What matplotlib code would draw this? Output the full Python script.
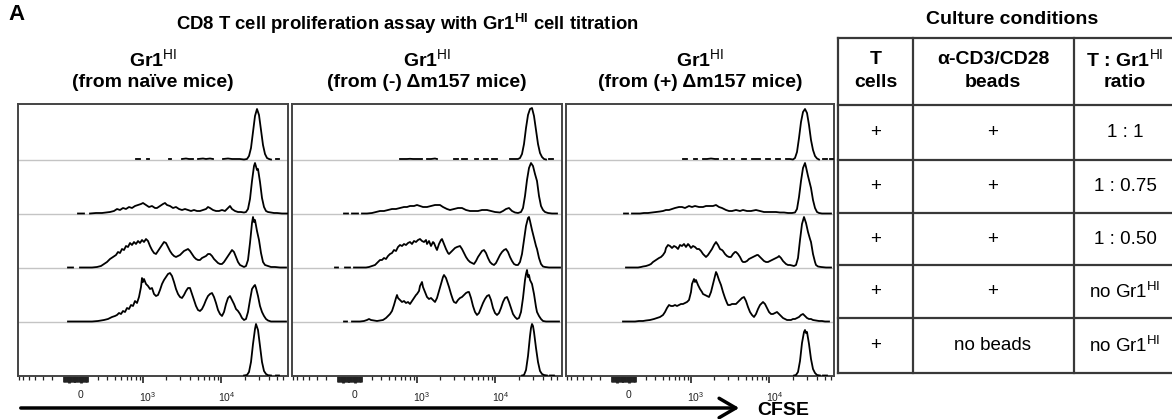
import math
import numpy as np
import matplotlib
matplotlib.use("Agg")
import matplotlib.pyplot as plt
from matplotlib.transforms import ScaledTranslation

plt.rcParams['font.family'] = ['Liberation Sans', 'DejaVu Sans']
plt.rcParams['mathtext.fontset'] = 'custom'
plt.rcParams['mathtext.rm'] = 'Liberation Sans'
plt.rcParams['mathtext.bf'] = 'Liberation Sans:bold'
plt.rcParams['mathtext.it'] = 'Liberation Sans:italic'

W, H = 1172, 419
G = None  # hueco (sin eventos)

#### Datos: histogramas CFSE (canal 0-270, altura en px de una fila de 54) ####

row_labels = ["1 : 1", "1 : 0.75", "1 : 0.50", "no Gr1$^{\\mathrm{HI}}$", "no Gr1$^{\\mathrm{HI}}$"]
beads_labels = ["+", "+", "+", "+", "no beads"]
tcell_labels = ["+", "+", "+", "+", "+"]

panel_titles = ["(from naïve mice)", "(from (-) \u0394m157 mice)", "(from (+) \u0394m157 mice)"]

# Panel 1: Gr1HI de ratones naive
naive_1a1 = [(118, 1), (122, 1), G, (129, 1), (131, 1), G, (151, 1), (153, 1), G,
             (164, 1), (168, 1.5), (171, 1), (175, 1), G, (180, 1), (185, 1.5), (188, 1), (192, 1.5), (195, 1), G,
             (205, 1), (210, 1.5), (214, 1), (218, 1), (222, 1), (226, 0.5), (229, 1), (231, 4), (233, 12),
             (235, 28), (237, 44), (239, 51), (241, 45), (243, 30), (245, 15), (247, 6), (249, 2), (251, 1),
             (253, 0.5), G, (258, 1), (261, 1)]
naive_1a075 = [(60, .5), (66, .5), G, (72, .5), (78, 1), (84, 1), (88, 1.5), (92, 2), (96, 3), (99, 5), (102, 4),
               (105, 6), (108, 5), (111, 7), (114, 6), (117, 8), (120, 9), (123, 10), (125, 11), (128, 9), (131, 7),
               (134, 8), (137, 6), (139, 6), (142, 8), (145, 10), (147, 11), (149, 9), (152, 8), (155, 6), (158, 7),
               (161, 5), (164, 4), (167, 5), (170, 4), (173, 3), (176, 4), (179, 3), (182, 3), (185, 4), (188, 5),
               (190, 7), (192, 6), (195, 4), (198, 3), (201, 3), (204, 4), (207, 3), (210, 6), (212, 8), (214, 5),
               (217, 3), (220, 2), (223, 2), (226, 1.5), (228, 2), (230, 5), (232, 15), (234, 33), (236, 48),
               (237, 51), (239, 44), (240, 45), (242, 32), (244, 16), (246, 7), (248, 3), (250, 2), (253, 1.5),
               (256, 1), (259, 1), (264, .5), (270, .5)]
naive_1a050 = [(50, .5), (55, .5), G, (62, .5), (68, .5), (74, .5), (79, 1), (83, 2), (86, 4), (89, 6), (92, 9),
               (95, 11), (98, 13), (100, 16), (102, 15), (104, 19), (106, 18), (108, 22), (110, 21), (112, 25),
               (114, 23), (116, 26), (118, 24), (120, 27), (122, 25), (124, 28), (126, 26), (128, 29), (130, 27),
               (132, 22), (134, 18), (136, 15), (138, 14), (140, 17), (142, 20), (144, 23), (146, 26), (148, 25),
               (150, 21), (152, 17), (154, 14), (156, 12), (158, 11), (160, 12), (162, 13), (164, 15), (166, 17),
               (168, 18), (170, 19), (172, 17), (174, 14), (176, 11), (178, 9), (180, 8), (182, 8), (184, 10),
               (186, 11), (188, 12), (190, 14), (192, 14), (194, 12), (196, 9), (198, 7), (200, 5), (202, 4),
               (204, 4), (206, 6), (208, 9), (210, 12), (212, 15), (214, 18), (216, 16), (218, 11), (220, 6),
               (222, 3), (224, 2), (226, 1), (228, 2), (230, 8), (232, 25), (234, 45), (235, 51), (236, 46),
               (237, 48), (239, 37), (241, 28), (243, 15), (245, 6), (247, 3), (250, 2), (253, 1), (257, 1),
               (262, .5), (268, .5)]
naive_nogr1 = [(50, .5), (56, .5), (62, .5), (68, .5), (74, .5), (80, 1), (86, 2), (90, 3), (94, 5), (97, 6),
               (99, 7), (101, 9), (103, 8), (105, 11), (107, 10), (109, 14), (111, 13), (113, 17), (115, 16),
               (117, 21), (119, 19), (121, 25), (123, 35), (124, 44), (125, 40), (126, 43), (128, 38), (130, 36),
               (132, 33), (134, 34), (136, 28), (138, 26), (140, 27), (142, 32), (144, 38), (146, 42), (148, 45),
               (150, 48), (152, 49), (154, 46), (156, 40), (158, 33), (160, 28), (162, 25), (164, 24), (166, 27),
               (168, 31), (170, 34), (172, 34), (174, 28), (176, 22), (178, 16), (180, 12), (182, 11), (184, 13),
               (186, 17), (188, 22), (190, 26), (192, 28), (194, 29), (196, 25), (198, 19), (200, 12), (202, 8),
               (204, 6), (206, 10), (208, 18), (210, 24), (212, 26), (214, 22), (216, 18), (218, 13), (220, 11),
               (222, 8), (224, 4), (226, 2), (228, 3), (230, 10), (232, 22), (234, 33), (236, 36), (237, 37),
               (238, 34), (240, 26), (242, 16), (244, 10), (246, 6), (248, 3), (250, 1.5), (253, .5), (258, .5),
               (264, .5), (268, .5)]
naive_nobeads = [(226, .5), (229, 1), (231, 4), (233, 14), (235, 32), (237, 47), (238, 52), (240, 46), (242, 30),
                 (244, 14), (246, 5), (248, 2), (250, .8), (253, .5), G, (258, .5), (261, .5)]

# Panel 2: Gr1HI de ratones (-) dm157
neg_1a1 = [(108, 1), (112, 1), (115, 1), (118, 1.2), (121, 1), (124, 1), (127, 1), (130, 1), G, (135, 1),
           (139, 1), (143, 1.5), (145, 1), G, (162, 1), (166, 1), G, (170, 1), (175, 1), G, (183, 1), (186, 1), G,
           (192, 1), (196, 1), G, (200, 1), (205, 1), G, (218, 1), (222, 1), (226, 1), (228, 2), (230, 6),
           (232, 16), (234, 32), (236, 45), (238, 51), (240, 52), (242, 44), (244, 30), (246, 16), (248, 7),
           (250, 3), (252, 1), (254, .5), G, (257, 1), (261, 1)]
neg_1a075 = [(52, .5), (56, .5), G, (60, .5), (66, .5), G, (70, .5), (75, .5), (80, 1), (84, 2), (88, 3),
             (92, 3), (96, 4), (100, 5), (104, 5), (108, 6), (112, 7), (115, 7), (118, 8), (122, 8), (125, 9),
             (128, 8), (131, 7), (135, 7), (139, 8), (143, 9), (146, 9), (148, 9), (151, 7), (155, 5), (158, 4),
             (162, 5), (166, 6), (170, 6), (174, 4), (178, 3), (182, 3), (186, 3), (190, 4), (195, 4), (199, 3),
             (203, 2), (208, 1.5), (211, 3), (214, 5), (217, 6), (220, 3), (223, 1.5), (226, 1), (229, 2),
             (231, 6), (233, 18), (235, 34), (237, 46), (239, 51), (241, 48), (243, 40), (245, 33), (247, 18),
             (249, 8), (251, 4), (253, 2), (256, 1), (260, .5), (265, .5)]
neg_1a050 = [(43, .5), (46, .5), G, (53, .5), (58, .5), G, (62, .5), (66, .5), (70, .5), (74, .5), (77, 1),
             (80, 2), (83, 3), (86, 6), (88, 8), (90, 8), (92, 10), (94, 9), (96, 12), (98, 14), (100, 15),
             (102, 18), (104, 17), (106, 21), (108, 23), (110, 22), (112, 24), (114, 23), (116, 25), (118, 26),
             (120, 24), (122, 27), (124, 26), (126, 28), (128, 29), (130, 27), (132, 26), (134, 28), (135, 24),
             (137, 27), (139, 22), (141, 26), (142, 25), (144, 20), (145, 18), (147, 24), (149, 28), (150, 29),
             (152, 24), (154, 19), (156, 15), (157, 14), (159, 16), (161, 18), (163, 20), (165, 21), (168, 22),
             (170, 19), (172, 15), (174, 11), (176, 8), (178, 6), (180, 5), (182, 4), (184, 7), (186, 11),
             (188, 14), (190, 17), (192, 18), (194, 15), (196, 10), (198, 6), (200, 4), (202, 3), (204, 5),
             (206, 9), (208, 13), (210, 16), (212, 18), (214, 19), (216, 16), (218, 11), (220, 7), (222, 4),
             (224, 3), (226, 3), (228, 6), (230, 14), (232, 28), (234, 42), (236, 50), (237, 51), (238, 47),
             (240, 38), (242, 30), (244, 22), (245, 19), (247, 10), (249, 4), (251, 1.5), (253, 1), (257, .5),
             (262, .5), (268, .5)]
neg_nogr1 = [(52, .5), (55, .5), G, (60, .5), (64, .5), (68, .5), (72, 1), (75, 2), (77, 3), (79, 2), (82, 1.5),
             (85, 1), (88, 1.5), (91, 2), (94, 4), (96, 6), (98, 8), (100, 11), (102, 17), (104, 24), (105, 27),
             (106, 24), (108, 22), (110, 20), (112, 21), (114, 19), (116, 20), (118, 18), (120, 21), (122, 24),
             (124, 27), (125, 28), (127, 31), (128, 36), (130, 40), (131, 35), (133, 30), (135, 25), (137, 23),
             (139, 24), (141, 22), (143, 20), (145, 24), (147, 31), (149, 38), (151, 45), (152, 47), (154, 44),
             (156, 38), (157, 35), (159, 28), (161, 22), (162, 20), (164, 19), (166, 22), (168, 24), (170, 25),
             (172, 27), (174, 29), (176, 30), (177, 30), (179, 24), (181, 16), (183, 10), (185, 7), (187, 9),
             (189, 14), (191, 19), (193, 23), (195, 26), (197, 27), (199, 22), (201, 14), (203, 9), (205, 7),
             (207, 9), (209, 14), (211, 20), (213, 24), (215, 25), (217, 20), (219, 14), (221, 8), (223, 5),
             (225, 3), (227, 4), (229, 10), (231, 24), (233, 42), (234, 48), (235, 52), (236, 45), (237, 47),
             (238, 42), (240, 38), (242, 28), (244, 15), (245, 10), (247, 6), (249, 3), (251, 1), (254, .5),
             (258, .5), (263, .5), (267, .5)]
neg_nobeads = [(230, .5), (232, 1), (234, 6), (236, 20), (238, 40), (239, 48), (240, 52), (241, 50), (242, 44),
               (244, 28), (246, 14), (248, 5), (250, 2), (252, 1), (255, .5), G, (258, .5), (262, .5)]

# Panel 3: Gr1HI de ratones (+) dm157
pos_1a1 = [(117, 1), (121, 1), G, (128, 1), (131, 1), G, (137, 1), (141, 1), (145, 1.5), (149, 1), (152, 1), G,
           (158, 1), (161, 1), G, (166, 1), (168, 1), G, (176, 1), (180, 1), G, (186, 1), (190, 1), (194, 1), G,
           (200, 1), (204, 1), G, (210, 1), (214, 1), G, (220, 1), (224, 1), (227, .5), (229, 2), (231, 8),
           (233, 22), (235, 38), (237, 48), (239, 51), (241, 47), (243, 35), (245, 20), (247, 10), (249, 4),
           (251, 1.5), (253, .5), G, (257, 1), (261, 1), G, (264, 1), (267, 1)]
pos_1a075 = [(58, .5), (62, .5), G, (66, .5), (70, .5), (74, .5), (78, 1), (82, 1), (86, 1.5), (90, 2), (94, 2.5),
             (97, 3), (100, 4), (103, 4), (106, 5), (109, 6), (113, 7), (116, 7), (119, 6), (123, 8), (126, 7),
             (129, 8), (133, 7), (137, 7), (140, 8), (144, 8), (147, 8), (150, 9), (153, 7), (156, 6), (160, 4),
             (163, 3), (166, 3), (170, 4), (174, 3), (177, 4), (181, 3), (185, 3), (190, 4), (194, 3), (198, 2),
             (202, 2), (206, 2), (210, 2), (214, 1.5), (218, 1.5), (222, 1), (226, 1), (229, 1.5), (231, 5),
             (233, 17), (235, 33), (237, 46), (239, 51), (240, 47), (242, 38), (244, 30), (245, 26), (247, 14),
             (249, 6), (251, 2), (253, 1), (256, .5), (260, .5), (265, .5)]
pos_1a050 = [(60, .5), (64, .5), (68, .5), (72, .5), (75, 1), (77, 1.5), (80, 2), (83, 3), (85, 4), (87, 6),
             (90, 8), (93, 10), (95, 11), (97, 13), (99, 16), (100, 20), (102, 23), (104, 22), (106, 20), (108, 22),
             (110, 21), (112, 19), (114, 23), (116, 22), (118, 24), (120, 21), (122, 24), (123, 23), (125, 20),
             (127, 22), (129, 21), (131, 19), (133, 19), (135, 17), (137, 14), (139, 12), (140, 11), (142, 13),
             (144, 16), (146, 19), (148, 23), (150, 26), (152, 23), (154, 19), (156, 18), (157, 17), (159, 14),
             (161, 12), (163, 11), (165, 11), (167, 14), (169, 16), (170, 16), (172, 14), (174, 11), (176, 7),
             (177, 6), (179, 6), (181, 7), (183, 9), (185, 10), (187, 11), (189, 12), (191, 13), (192, 13),
             (194, 11), (196, 9), (198, 7), (200, 6), (202, 6), (204, 7), (206, 8), (208, 9), (210, 10), (212, 11),
             (213, 12), (215, 10), (217, 7), (219, 5), (220, 4), (222, 3), (224, 3), (226, 2.5), (228, 2), (230, 3),
             (232, 10), (234, 28), (236, 44), (238, 51), (240, 45), (242, 36), (244, 29), (245, 26), (247, 14),
             (249, 6), (250, 3), (252, 1.5), (255, 1), (260, .5), (265, .5)]
pos_nogr1 = [(57, .5), (61, .5), (65, .5), (69, .5), (73, 1), (77, 1), (80, 1.5), (84, 2), (88, 3), (91, 4),
             (94, 5), (97, 7), (99, 10), (101, 14), (103, 17), (105, 16), (107, 16), (109, 17), (111, 16),
             (113, 17), (115, 18), (117, 18), (119, 19), (121, 20), (123, 22), (125, 30), (126, 38), (128, 43),
             (129, 40), (130, 42), (132, 37), (134, 33), (136, 30), (137, 28), (139, 27), (141, 26), (143, 25),
             (145, 30), (147, 38), (149, 46), (150, 50), (151, 48), (153, 42), (155, 37), (157, 30), (159, 24),
             (161, 19), (162, 17), (164, 17), (166, 18), (168, 18), (170, 18), (172, 20), (174, 22), (176, 24),
             (178, 25), (180, 21), (182, 15), (184, 10), (186, 7), (188, 5), (190, 8), (192, 13), (194, 17),
             (196, 19), (197, 20), (199, 18), (201, 14), (203, 10), (205, 8), (207, 8), (209, 9), (211, 10),
             (213, 8), (215, 6), (217, 4), (219, 3), (221, 2), (223, 2), (225, 2), (227, 3), (229, 3), (231, 4),
             (233, 5), (235, 7), (237, 8), (239, 6), (241, 4), (243, 3), (245, 3), (247, 2), (250, 1.5), (253, 1),
             (256, 1), (259, .5), (263, .5)]
pos_nobeads = [(228, .5), (230, 1), (232, 4), (234, 15), (236, 33), (238, 44), (239, 46), (240, 43), (241, 44),
               (243, 32), (245, 17), (247, 7), (249, 3), (251, 1), (254, .5), G, (257, .5), (261, .5)]

panels = [
    [naive_1a1, naive_1a075, naive_1a050, naive_nogr1, naive_nobeads],
    [neg_1a1, neg_1a075, neg_1a050, neg_nogr1, neg_nobeads],
    [pos_1a1, pos_1a075, pos_1a050, pos_nogr1, pos_nobeads],
]

# Eje CFSE (biexponencial)
major_vals = [0, 1000, 10000]
major_labels = ["0", "$10^3$", "$10^4$"]
zero_vals = [v for v in range(-90, 110, 10) if v != 0]
minor_vals = ([s * v for v in range(200, 800, 100) for s in (-1, 1)] + [800, 900]
              + list(range(2000, 10000, 1000)) + list(range(20000, 70000, 10000)))


def canal(v):
    """Escala biexponencial aproximada (asinh) -> canal del eje (0-270)."""
    return 57 + math.asinh(v / 281.0) / math.log(10) * 79


def fx(px):
    return px / W


def fy(py):
    return 1 - py / H


def serie(puntos):
    xs, ys = [], []
    for p in puntos:
        if p is None:
            xs.append(np.nan)
            ys.append(np.nan)
        else:
            xs.append(p[0])
            ys.append(p[1])
    return np.array(xs, dtype=float), np.array(ys, dtype=float)


fig = plt.figure(figsize=(W / 100, H / 100), dpi=100)

ROW = 54.0
panel_left = [18, 292, 566]
panel_width = [270, 270, 268]
for k, filas in enumerate(panels):
    ax = fig.add_axes([fx(panel_left[k]), fy(376), panel_width[k] / W, 272 / H])
    ax.set_xlim(0, panel_width[k])
    ax.set_ylim(0, 272 / ROW)
    for base in [1, 2, 3, 4]:
        ax.axhline(base, color='#c4c4c4', lw=1.0, zorder=1)
    for i, hist in enumerate(filas):
        xs, hs = serie(hist)
        ax.plot(xs, (4 - i) + hs / ROW, color='black', lw=1.3, zorder=3,
                solid_joinstyle='round')
    ax.set_yticks([])
    ax.set_xticks([canal(v) for v in major_vals])
    ax.set_xticklabels(major_labels, fontsize=7.5)
    todos_minor = minor_vals + zero_vals
    ax.set_xticks([canal(v) for v in todos_minor], minor=True)
    ax.tick_params(axis='x', which='major', direction='out', length=5, width=1.2, pad=5, colors='#222222')
    ax.tick_params(axis='x', which='minor', direction='out', length=3, width=0.9, colors='#222222')
    # bloque denso de marcas alrededor de 0
    for v, t in zip(todos_minor, ax.xaxis.get_minor_ticks(len(todos_minor))):
        if v in zero_vals:
            t.tick1line.set_markersize(5 if v in (-50, 50) else 4)
            t.tick1line.set_markeredgewidth(2.0)
    desplaza = ScaledTranslation(5 / 100, 0, fig.dpi_scale_trans)
    for lab in ax.get_xticklabels():
        lab.set_transform(lab.get_transform() + desplaza)
    for sp in ax.spines.values():
        sp.set_color('#444444')
        sp.set_linewidth(1.4)
    # titulos de cada panel
    cx = fx(panel_left[k] + panel_width[k] / 2)
    fig.text(cx, fy(59), "Gr1$^{\\mathrm{HI}}$", ha='center', va='center', fontsize=14, fontweight='bold')
    fig.text(cx, fy(82), panel_titles[k], ha='center', va='center', fontsize=14, fontweight='bold')

fig.text(fx(8), fy(15), "A", ha='left', va='center', fontsize=16, fontweight='bold')
fig.text(fx(407), fy(24), "CD8 T cell proliferation assay with Gr1$^{\\mathbf{HI}}$ cell titration",
         ha='center', va='center', fontsize=13.3, fontweight='bold')
fig.text(fx(1012), fy(20), "Culture conditions", ha='center', va='center', fontsize=14, fontweight='bold')

# Flecha CFSE
fig.add_artist(matplotlib.patches.FancyArrowPatch(
    (fx(18), fy(408)), (fx(742), fy(408)), transform=fig.transFigure,
    arrowstyle='->,head_length=0.6,head_width=0.35', mutation_scale=20, lw=2.5, color='black'))
fig.text(fx(757), fy(410), "CFSE", ha='left', va='center', fontsize=14, fontweight='bold')

#### Tabla de condiciones de cultivo ####
col_x = [838, 913, 1074]
row_y = [38, 105, 160, 213, 265, 318, 373]
lc = '#383838'
for y in row_y:
    fig.add_artist(plt.Line2D([fx(838), fx(1172)], [fy(y), fy(y)], color=lc, lw=1.6))
for x in col_x:
    fig.add_artist(plt.Line2D([fx(x), fx(x)], [fy(38), fy(373)], color=lc, lw=1.6))

centros = [876, 993, 1125]
headers = [("T", "cells"), ("\u03b1-CD3/CD28", "beads"), ("T : Gr1$^{\\mathrm{HI}}$", "ratio")]
for c, (l1, l2) in zip(centros, headers):
    fig.text(fx(c), fy(59), l1, ha='center', va='center', fontsize=14, fontweight='bold')
    fig.text(fx(c), fy(82), l2, ha='center', va='center', fontsize=14, fontweight='bold')

for j in range(5):
    yc = (row_y[j + 1] + row_y[j + 2]) / 2
    fig.text(fx(centros[0]), fy(yc), tcell_labels[j], ha='center', va='center', fontsize=13.5)
    fig.text(fx(centros[1]), fy(yc), beads_labels[j], ha='center', va='center', fontsize=13.5)
    fig.text(fx(centros[2]), fy(yc), row_labels[j], ha='center', va='center', fontsize=13.5)

fig.savefig("out.png", dpi=100)
